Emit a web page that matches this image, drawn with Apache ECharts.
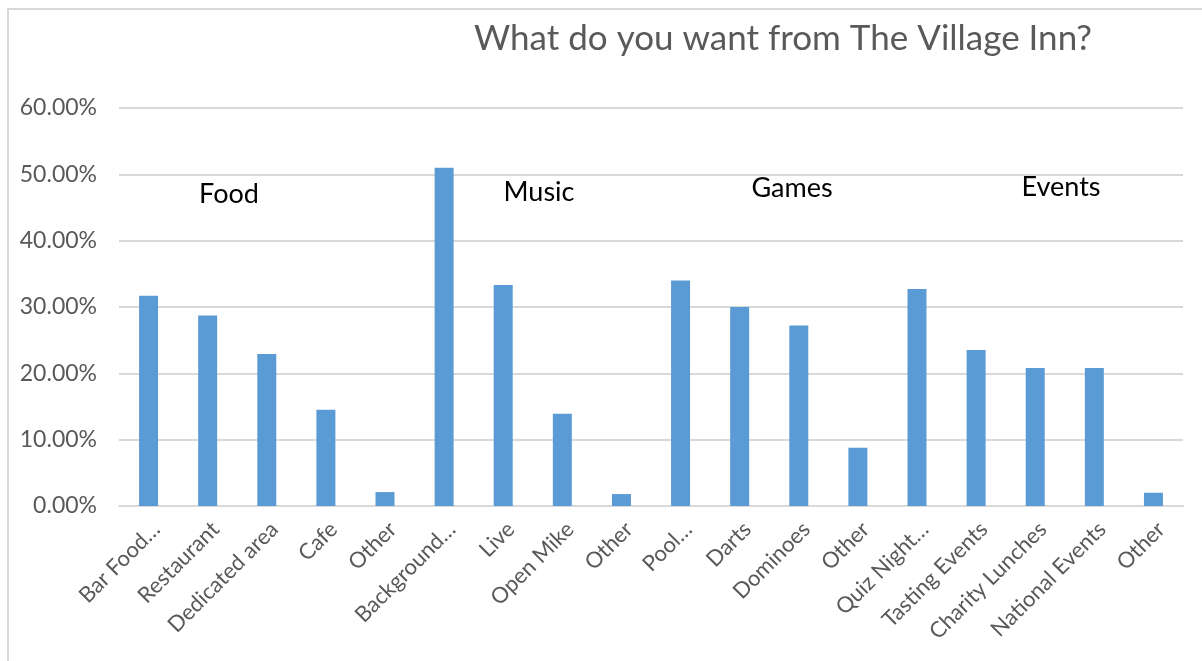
<!DOCTYPE html>
<html>
<head>
<meta charset="utf-8">
<script src="https://cdn.jsdelivr.net/npm/echarts@6/dist/echarts.min.js"></script>
<style>
  html, body { margin: 0; padding: 0; background: #ffffff; }
  #chart { width: 1202px; height: 661px; }
</style>
</head>
<body>
<div id="chart"></div>
<script>
// Survey answers, grouped as Food / Music / Games / Events
const categories = [
  'Bar Food…', 'Restaurant', 'Dedicated area', 'Cafe', 'Other',
  'Background…', 'Live', 'Open Mike', 'Other',
  'Pool…', 'Darts', 'Dominoes', 'Other',
  'Quiz Night…', 'Tasting Events', 'Charity Lunches', 'National Events', 'Other'
];
const shares = [
  0.317, 0.287, 0.229, 0.145, 0.021,
  0.510, 0.333, 0.139, 0.018,
  0.340, 0.300, 0.272, 0.088,
  0.327, 0.235, 0.208, 0.208, 0.020
];
const groupNames = ['Food', 'Music', 'Games', 'Events'];
const yTicks = { min: 0, max: 0.6, interval: 0.1 };

const FONT = 'Lato, "Open Sans", sans-serif';
const GREY = '#595959';

const chart = echarts.init(document.getElementById('chart'), null, { renderer: 'canvas' });

const caption = (name, x, y) => ({
  type: 'text', x, y,
  style: { text: name, font: '27px ' + FONT, fill: '#000', align: 'center', verticalAlign: 'middle' }
});

chart.setOption({
  backgroundColor: '#ffffff',
  animation: false,
  title: {
    text: 'What do you want from The Village Inn?',
    left: 778,
    top: 16,
    textAlign: 'center',
    textStyle: { fontFamily: FONT, fontWeight: 400, fontSize: 35, color: GREY }
  },
  grid: { left: 119, right: 19, top: 108, bottom: 155, containLabel: false },
  xAxis: {
    type: 'category',
    data: categories,
    axisLine: { show: true, lineStyle: { color: '#d9d9d9', width: 2 } },
    axisTick: { show: false },
    axisLabel: {
      interval: 0,
      rotate: 45,
      margin: 12,
      verticalAlign: 'top',
      fontFamily: FONT,
      fontSize: 22,
      color: GREY
    }
  },
  yAxis: {
    type: 'value',
    min: yTicks.min,
    max: yTicks.max,
    interval: yTicks.interval,
    axisLine: { show: false },
    axisTick: { show: false },
    splitLine: { lineStyle: { color: '#d9d9d9', width: 2 } },
    axisLabel: {
      margin: 22,
      fontFamily: FONT,
      fontSize: 23,
      color: GREY,
      formatter: v => (v * 100).toFixed(2) + '%'
    }
  },
  series: [{
    type: 'bar',
    data: shares,
    barWidth: 19,
    itemStyle: { color: '#5b9bd5' }
  }],
  graphic: [
    // outer chart-area frame
    {
      type: 'rect',
      shape: { x: 8, y: 9, width: 1300, height: 700 },
      style: { fill: 'none', stroke: '#d9d9d9', lineWidth: 2 },
      silent: true
    },
    // group captions
    caption(groupNames[0], 229, 194),
    caption(groupNames[1], 539, 192),
    caption(groupNames[2], 792, 188),
    caption(groupNames[3], 1061, 187)
  ]
});
</script>
</body>
</html>
